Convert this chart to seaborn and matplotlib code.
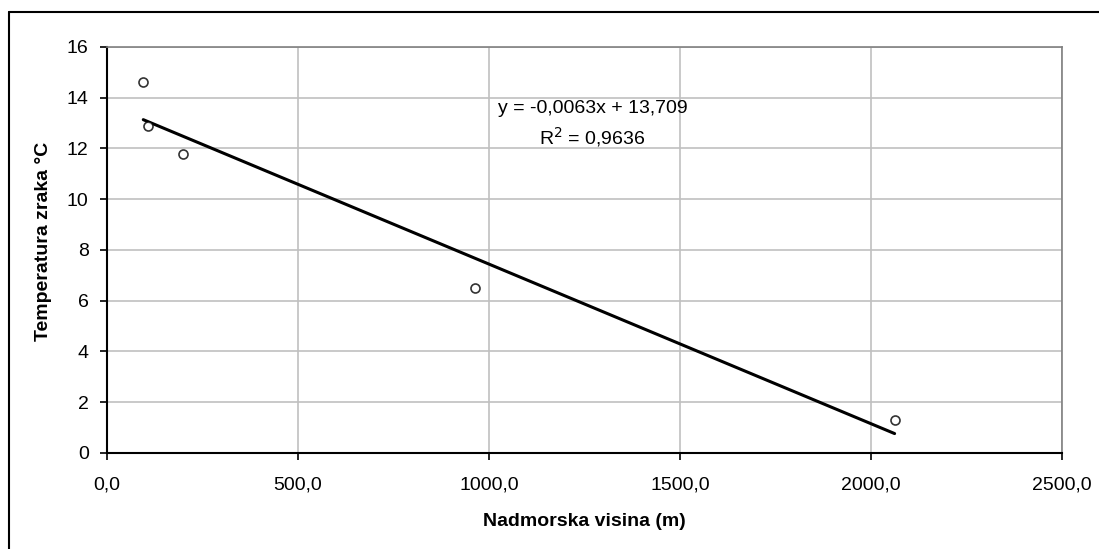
import matplotlib
matplotlib.use("Agg")
import matplotlib.pyplot as plt
import seaborn as sns
import pandas as pd
from matplotlib.lines import Line2D

# ── Data ───────────────────────────────────────────────────────────────────────

altitude = [95.7, 108.8, 198.6, 965.0, 2062.0]     # Nadmorska visina (m)
temperature = [14.62, 12.88, 11.78, 6.52, 1.31]    # Temperatura zraka °C

x_ticks = [0, 500, 1000, 1500, 2000, 2500]
x_tick_labels = ["0,0", "500,0", "1000,0", "1500,0", "2000,0", "2500,0"]
y_ticks = [0, 2, 4, 6, 8, 10, 12, 14, 16]

eq_text = "y = -0,0063x + 13,709"
r2_text = "R$^2$ = 0,9636"

df = pd.DataFrame({"altitude": altitude, "temperature": temperature})

# ── Plot ───────────────────────────────────────────────────────────────────────

sns.set_style("white")
plt.rcParams["font.family"] = ["Liberation Sans", "DejaVu Sans"]
plt.rcParams["text.color"] = "black"
plt.rcParams["axes.labelcolor"] = "black"
plt.rcParams["xtick.color"] = "black"
plt.rcParams["ytick.color"] = "black"

fig = plt.figure(figsize=(10.99, 5.49), dpi=100)
ax = fig.add_axes([0.0971, 0.1749, 0.8692, 0.7395])

sns.regplot(
    data=df, x="altitude", y="temperature", ax=ax, ci=None, truncate=True,
    scatter_kws=dict(s=42, facecolors="white", edgecolors="black", linewidths=1.2, zorder=4),
    line_kws=dict(color="black", linewidth=2.2, zorder=3),
)

ax.set_xlim(0, 2500)
ax.set_ylim(0, 16)
ax.set_xticks(x_ticks)
ax.set_xticklabels(x_tick_labels)
ax.set_yticks(y_ticks)

ax.grid(True, color="#c0c0c0", linewidth=1.2)
ax.set_axisbelow(True)

for side in ["left", "bottom"]:
    ax.spines[side].set_color("black")
    ax.spines[side].set_linewidth(1.5)
for side in ["top", "right"]:
    ax.spines[side].set_color("#808080")
    ax.spines[side].set_linewidth(1.2)

ax.tick_params(axis="both", direction="out", length=5, width=1.2, color="black",
               labelcolor="black", labelsize=14, pad=8, left=True, bottom=True)
ax.tick_params(axis="x", pad=12)

ax.set_xlabel("Nadmorska visina (m)", fontsize=14, fontweight="bold", labelpad=14)
ax.set_ylabel("Temperatura zraka °C", fontsize=14, fontweight="bold")
ax.yaxis.set_label_coords(-0.057, 0.52)

ax.text(1271, 13.58, eq_text, ha="center", va="center", fontsize=14)
ax.text(1271, 12.44, r2_text, ha="center", va="center", fontsize=14)

# chart area border (left and top edges visible)
bx, by = 9 / 1099, 1 - 12 / 549
fig.add_artist(Line2D([bx, bx], [0, by], transform=fig.transFigure, color="black", linewidth=1.5))
fig.add_artist(Line2D([bx, 1], [by, by], transform=fig.transFigure, color="black", linewidth=1.5))

fig.savefig("out.png", dpi=100)
plt.close(fig)
